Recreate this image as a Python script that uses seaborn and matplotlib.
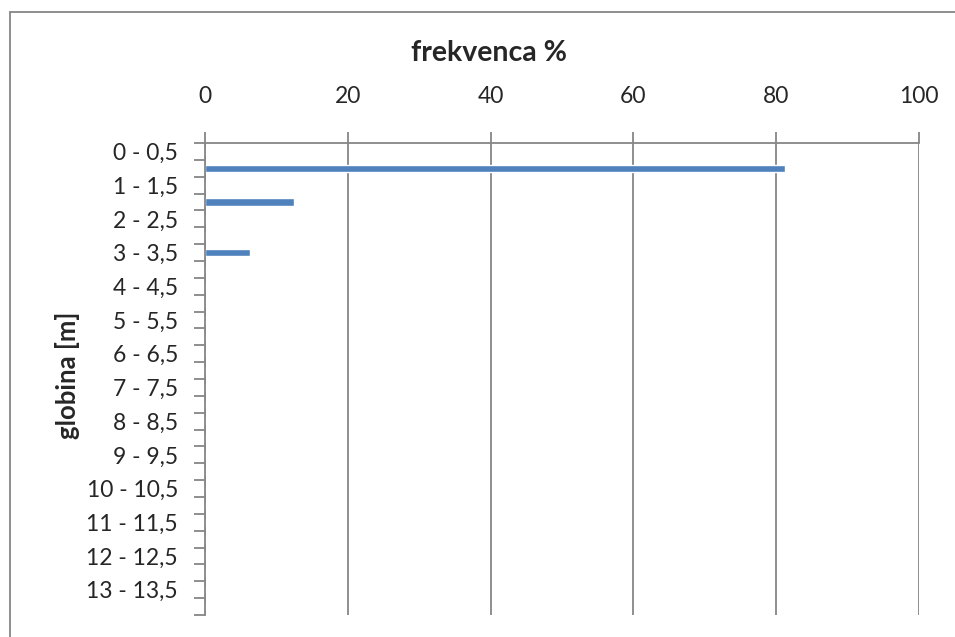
import matplotlib
matplotlib.use("Agg")
import matplotlib.pyplot as plt
import seaborn as sns
from matplotlib.patches import Rectangle

# kategorije globine (vsaka druga oznaka je prikazana, kot v Excelu)
globine = [
    "0 - 0,5", "0,5 - 1", "1 - 1,5", "1,5 - 2", "2 - 2,5", "2,5 - 3",
    "3 - 3,5", "3,5 - 4", "4 - 4,5", "4,5 - 5", "5 - 5,5", "5,5 - 6",
    "6 - 6,5", "6,5 - 7", "7 - 7,5", "7,5 - 8", "8 - 8,5", "8,5 - 9",
    "9 - 9,5", "9,5 - 10", "10 - 10,5", "10,5 - 11", "11 - 11,5", "11,5 - 12",
    "12 - 12,5", "12,5 - 13", "13 - 13,5", "13,5 - 14",
]
frekvenca = [
    0, 81.25, 0, 12.5, 0, 0,
    6.25, 0, 0, 0, 0, 0,
    0, 0, 0, 0, 0, 0,
    0, 0, 0, 0, 0, 0,
    0, 0, 0, 0,
]
x_ticks = [0, 20, 40, 60, 80, 100]

sns.set_style("white")
plt.rcParams["font.family"] = ["Lato", "DejaVu Sans"]

siva = "#868686"
fig = plt.figure(figsize=(9.55, 6.37), dpi=100)
ax = fig.add_axes([205 / 955, 1 - 615 / 637, (919 - 205) / 955, (615 - 143) / 637])

sns.barplot(x=frekvenca, y=globine, orient="h", color="#4F81BD",
            width=0.44, saturation=1, ax=ax)

n = len(globine)
ax.set_ylim(n - 0.5, -0.5)
ax.set_xlim(0, 100)

# x os zgoraj
ax.xaxis.tick_top()
ax.set_xticks(x_ticks)
ax.set_xticklabels([str(v) for v in x_ticks], fontsize=16.5)
ax.tick_params(axis="x", length=8, width=1.3, color=siva, pad=18, top=True, bottom=False)
ax.grid(axis="x", color=siva, linewidth=1.3)
ax.grid(axis="y", visible=False)

# y os: oznake na vsaki drugi kategoriji, kljukice na mejah
ax.set_yticks(range(0, n, 2))
ax.set_yticklabels(globine[0::2], fontsize=16.5)
ax.set_yticks([i - 0.5 for i in range(n + 1)], minor=True)
ax.tick_params(axis="y", which="major", length=0, pad=19.5)
ax.tick_params(axis="y", which="minor", length=8, width=1.3, color=siva, left=True)

for s in ["right", "bottom"]:
    ax.spines[s].set_visible(False)
for s in ["top", "left"]:
    ax.spines[s].set_color(siva)
    ax.spines[s].set_linewidth(1.3)

ax.set_xlabel("")
ax.set_ylabel("")

fig.text(489 / 955, 1 - 53 / 637, "frekvenca %", ha="center", va="center",
         fontsize=20.5, fontweight="bold")
fig.text(67 / 955, 1 - 375 / 637, "globina [m]", ha="center", va="center",
         rotation=90, fontsize=18.5, fontweight="bold")

# okvir grafa (viden samo zgoraj in levo)
fig.patches.append(Rectangle((10 / 955, -0.1), 1.2, 1 - 12 / 637 + 0.1,
                             transform=fig.transFigure, fill=False,
                             edgecolor=siva, linewidth=1.3))

fig.savefig("out.png", dpi=100)
